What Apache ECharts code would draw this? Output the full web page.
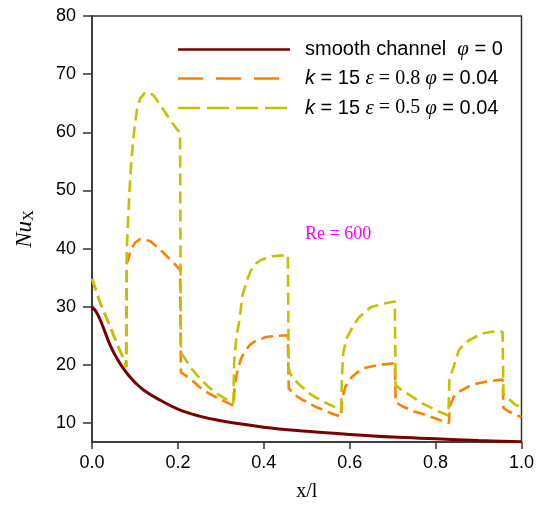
<!DOCTYPE html>
<html>
<head>
<meta charset="utf-8">
<script src="https://cdn.jsdelivr.net/npm/echarts@6/dist/echarts.min.js"></script>
<style>
  html, body { margin: 0; padding: 0; background: #fff; }
  #chart { width: 537px; height: 507px; }
</style>
</head>
<body>
<div id="chart"></div>
<script>
// Datos
const smoothX = [0, 0.01, 0.02, 0.03, 0.04, 0.05, 0.06, 0.07, 0.08, 0.09, 0.1, 0.12, 0.15, 0.2, 0.25, 0.3, 0.4, 0.5, 0.6, 0.7, 0.8, 0.9, 1.0]
const smoothY = [30, 29.1, 27.6, 25.7, 23.8, 22.2, 20.9, 19.7, 18.7, 17.8, 17.0, 15.7, 14.3, 12.4, 11.2, 10.4, 9.3, 8.6, 8.05, 7.6, 7.3, 7.0, 6.8]

// k = 15, eps = 0.8
const orangeX = [0, 0.02, 0.04, 0.06, 0.077, 0.08,
	0.081, 0.086, 0.09, 0.1, 0.111, 0.125, 0.135, 0.158, 0.185, 0.205,
	0.207, 0.23, 0.25, 0.27, 0.29, 0.31, 0.33,
	0.332, 0.339, 0.347, 0.355, 0.367, 0.378, 0.405, 0.43, 0.456,
	0.458, 0.471, 0.49, 0.506, 0.52, 0.537, 0.556, 0.58,
	0.582, 0.59, 0.6, 0.606, 0.629, 0.668, 0.705,
	0.707, 0.722, 0.75, 0.769, 0.807, 0.831,
	0.833, 0.842, 0.854, 0.885, 0.916, 0.956,
	0.958, 0.97, 0.985, 1.0]
const orangeY = [34.8, 30.5, 27.0, 23.3, 20.5, 19.6,
	37.5, 38.6, 39.8, 41.0, 41.6, 41.5, 41.3, 39.9, 37.9, 36.4,
	18.7, 17.6, 16.2, 15.2, 14.4, 13.7, 13.0,
	16.5, 19.1, 21.1, 22.2, 23.4, 24.0, 24.8, 25.0, 25.1,
	16.0, 14.9, 14.0, 13.4, 12.8, 12.3, 11.7, 11.1,
	14.0, 16.3, 17.5, 18.0, 19.4, 20.0, 20.3,
	13.6, 12.9, 12.0, 11.6, 10.6, 10.0,
	12.9, 14.5, 15.4, 16.6, 17.1, 17.5,
	12.6, 12.0, 11.5, 11.0]

// k = 15, eps = 0.5
const yellowX = [0, 0.02, 0.04, 0.06, 0.077, 0.079,
	0.081, 0.086, 0.09, 0.095, 0.1, 0.105, 0.112, 0.122, 0.135, 0.145, 0.155, 0.17, 0.185, 0.2, 0.205,
	0.207, 0.23, 0.25, 0.27, 0.29, 0.31, 0.329,
	0.331, 0.336, 0.342, 0.351, 0.363, 0.371, 0.383, 0.394, 0.42, 0.456,
	0.458, 0.463, 0.48, 0.506, 0.53, 0.552, 0.58,
	0.582, 0.585, 0.592, 0.603, 0.612, 0.622, 0.635, 0.649, 0.676, 0.705,
	0.707, 0.72, 0.738, 0.769, 0.807, 0.83,
	0.832, 0.842, 0.854, 0.865, 0.877, 0.908, 0.931, 0.956,
	0.958, 0.97, 0.985, 1.0]
const yellowY = [34.8, 30.5, 27.0, 23.3, 20.5, 19.6,
	40.0, 48.0, 53.5, 58.0, 61.5, 64.0, 65.8, 66.7, 66.8, 66.2, 65.1, 63.5, 61.8, 60.3, 60.0,
	22.2, 19.5, 17.8, 16.3, 15.1, 14.2, 13.4,
	20.5, 24.8, 27.1, 32.2, 35.0, 36.4, 37.5, 38.1, 38.7, 38.9,
	19.3, 18.3, 16.8, 15.1, 14.0, 13.2, 12.3,
	18.0, 22.0, 24.5, 26.0, 27.2, 28.2, 29.1, 29.9, 30.5, 30.9,
	16.6, 15.7, 14.9, 13.4, 12.0, 11.3,
	17.4, 19.7, 22.5, 23.5, 24.2, 25.4, 25.7, 25.7,
	15.0, 14.2, 13.2, 12.7]

const yTicks = [10, 20, 30, 40, 50, 60, 70, 80]

const SANS = 'Liberation Sans, Arial, sans-serif'
const SERIF = 'Liberation Serif, Times New Roman, serif'
const COLOR_SMOOTH = '#7a0000'
const COLOR_ORANGE = '#ff8000'
const COLOR_YELLOW = '#c4c200'

const zip = (xs, ys) => xs.map((x, i) => [x, ys[i]])

const chart = echarts.init(document.getElementById('chart'))

// Estilos de texto de la leyenda
const legendRich = {
	s: { fontFamily: SANS, fontSize: 20, color: '#000' },
	si: { fontFamily: SANS, fontSize: 20, fontStyle: 'italic', color: '#000' },
	t: { fontFamily: SERIF, fontSize: 20, color: '#000' },
	ti: { fontFamily: SERIF, fontSize: 21, fontStyle: 'italic', color: '#000' },
}

function legendRow(y, color, dash, width, label) {
	return [
		{
			type: 'line',
			shape: { x1: 178, y1: y, x2: 290, y2: y },
			style: { stroke: color, lineWidth: width, lineDash: dash },
		},
		{
			type: 'text',
			x: 305,
			y: y,
			style: { text: label, rich: legendRich, verticalAlign: 'middle', align: 'left' },
		},
	]
}

chart.setOption({
	animation: false,
	backgroundColor: '#fff',
	grid: {
		left: 92,
		right: 14,
		top: 16,
		bottom: 61,
		show: true,
		borderColor: '#333',
		borderWidth: 1.5,
		backgroundColor: 'transparent',
	},
	xAxis: {
		type: 'value',
		min: 0,
		max: 1,
		interval: 0.2,
		name: 'x/l',
		nameLocation: 'middle',
		nameGap: 40,
		nameTextStyle: { fontFamily: SERIF, fontSize: 20, color: '#000' },
		axisLine: { show: true, lineStyle: { color: '#333', width: 1.5 } },
		axisTick: { show: true, length: 7, lineStyle: { color: '#333', width: 1.5 } },
		axisLabel: {
			fontFamily: SANS,
			fontSize: 18,
			color: '#000',
			margin: 12,
			formatter: (v) => v.toFixed(1),
		},
		splitLine: { show: false },
	},
	yAxis: {
		type: 'value',
		min: 6.75,
		max: 80,
		name: '{i|Nu}{s|X}',
		nameLocation: 'middle',
		nameRotate: 90,
		nameGap: 55,
		nameTextStyle: {
			rich: {
				i: { fontFamily: SERIF, fontSize: 23, fontStyle: 'italic', color: '#000' },
				s: { fontFamily: SERIF, fontSize: 15, color: '#000', verticalAlign: 'bottom', padding: [10, 0, 0, 0] },
			},
		},
		axisLine: { show: true, lineStyle: { color: '#333', width: 1.5 } },
		axisTick: {
			show: true,
			length: 9,
			customValues: yTicks,
			lineStyle: { color: '#333', width: 1.5 },
		},
		axisLabel: {
			fontFamily: SANS,
			fontSize: 18,
			color: '#000',
			margin: 16,
			customValues: yTicks,
		},
		splitLine: { show: false },
	},
	series: [
		{
			name: 'smooth',
			type: 'line',
			data: zip(smoothX, smoothY),
			showSymbol: false,
			smooth: 0.4,
			lineStyle: { color: COLOR_SMOOTH, width: 3 },
		},
		{
			name: 'eps08',
			type: 'line',
			data: zip(orangeX, orangeY),
			showSymbol: false,
			lineStyle: { color: COLOR_ORANGE, width: 2.6, type: [12, 6] },
		},
		{
			name: 'eps05',
			type: 'line',
			data: zip(yellowX, yellowY),
			showSymbol: false,
			lineStyle: { color: COLOR_YELLOW, width: 2.6, type: [12, 6] },
		},
	],
	graphic: [
		...legendRow(49.5, COLOR_SMOOTH, null, 2.5, '{s|smooth channel  }{ti|φ}{s| = 0}'),
		...legendRow(78.5, COLOR_ORANGE, [25, 13], 2.5, '{si|k}{s| = 15 }{ti|ε}{t| = 0.8 }{ti|φ}{s| = 0.04}'),
		...legendRow(108, COLOR_YELLOW, [22, 7], 2.5, '{si|k}{s| = 15 }{ti|ε}{t| = 0.5 }{ti|φ}{s| = 0.04}'),
		{
			type: 'text',
			x: 305,
			y: 234,
			style: {
				text: 'Re = 600',
				fontFamily: SERIF,
				fontSize: 18,
				fill: '#ff00ff',
				verticalAlign: 'middle',
			},
		},
	],
})

window.addEventListener('resize', () => chart.resize())
</script>
</body>
</html>
